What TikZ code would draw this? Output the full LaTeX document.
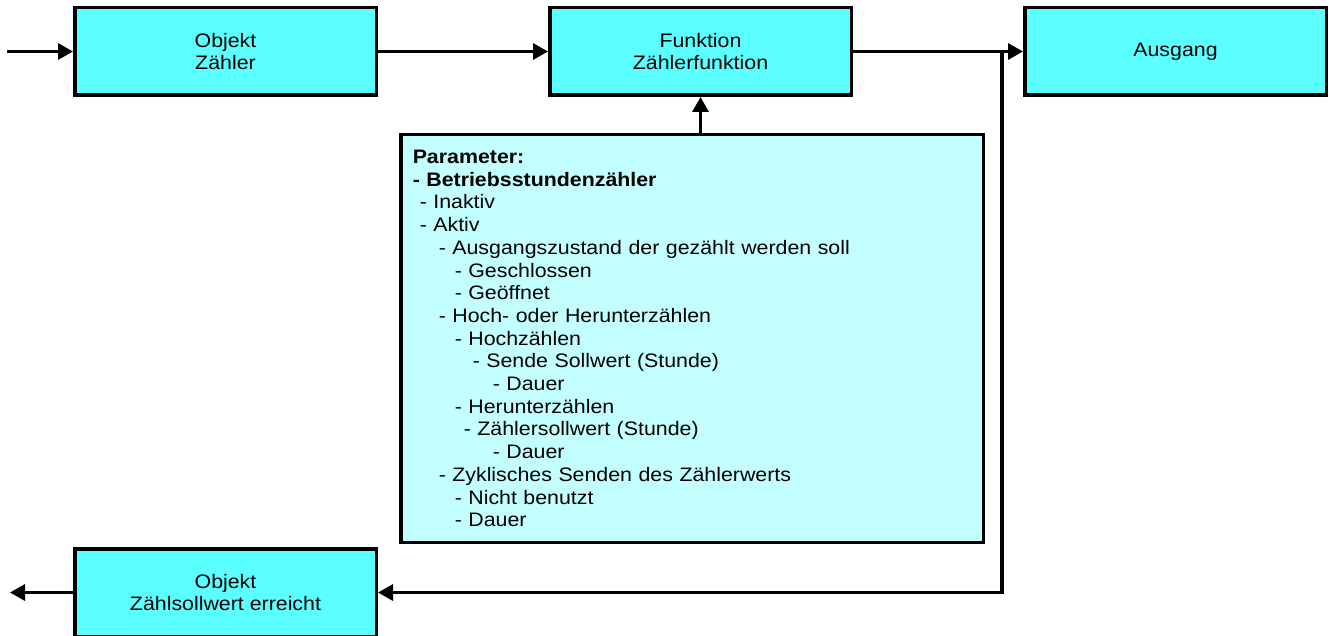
\documentclass[tikz,border=0pt]{standalone}
\usepackage{fontspec}
\setmainfont{Liberation Sans}[FakeStretch=1.095]
\usepackage{tikz}
\definecolor{blockcyan}{RGB}{92,255,255}
\definecolor{paramcyan}{RGB}{196,255,255}
\newcommand{\diafont}{\fontsize{19.5}{22.7}\selectfont}
\newcommand{\ind}[1]{\hspace*{#1pt}}
\tikzset{
     arrow/.style={-{Triangle[length=15pt,width=16pt]}, line width=3.2pt},
     block/.style={draw, line width=3.5pt, fill=blockcyan, minimum width=301.5pt,
                   minimum height=87.5pt, align=center, font=\diafont},
     parambox/.style={draw, line width=3.5pt, fill=paramcyan, minimum height=407.5pt,
                   text width=558.5pt, inner xsep=12pt, align=left, font=\diafont}
     }
\usetikzlibrary{positioning,arrows.meta}

\begin{document}
\begin{tikzpicture}[x=1pt,y=-1pt]
                    \useasboundingbox (0,0) rectangle (1329,636);
                    % Place nodes
                    \node [block] (obj) at (225.5,51.5) {Objekt\\Zähler};
                    \node [block, right=170pt of obj] (funk) {Funktion\\Zählerfunktion};
                    \node [block, right=170pt of funk] (aus) {Ausgang};
                    \node [block, below=450pt of obj] (soll) {Objekt\\Zählsollwert erreicht};
                    \node [parambox] (param) at (692,338.5) {%
                        \textbf{Parameter:}\\
                        \textbf{- Betriebsstundenzähler}\\
                        \ind{7}- Inaktiv\\
                        \ind{7}- Aktiv\\
                        \ind{26}- Ausgangszustand der gezählt werden soll\\
                        \ind{42}- Geschlossen\\
                        \ind{42}- Geöffnet\\
                        \ind{26}- Hoch- oder Herunterzählen\\
                        \ind{42}- Hochzählen\\
                        \ind{60}- Sende Sollwert (Stunde)\\
                        \ind{80}- Dauer\\
                        \ind{42}- Herunterzählen\\
                        \ind{51}- Zählersollwert (Stunde)\\
                        \ind{80}- Dauer\\
                        \ind{26}- Zyklisches Senden des Zählerwerts\\
                        \ind{42}- Nicht benutzt\\
                        \ind{42}- Dauer};
                    \coordinate [left=66pt of obj.west] (ein);
                    \coordinate [left=63pt of soll.west] (raus);
                    \coordinate (split) at (1002,51.5);
                    % Draw edges
                    \draw [arrow] (ein) -- (obj);
                    \draw [arrow] (obj) -- (funk);
                    \draw [arrow] (funk) -- (aus);
                    \draw [arrow] (param.north -| funk.south) -- (funk.south);
                    \draw [arrow] (split) |- (soll.east);
                    \draw [arrow] (soll.west) -- (raus);
                \end{tikzpicture}
\end{document}
